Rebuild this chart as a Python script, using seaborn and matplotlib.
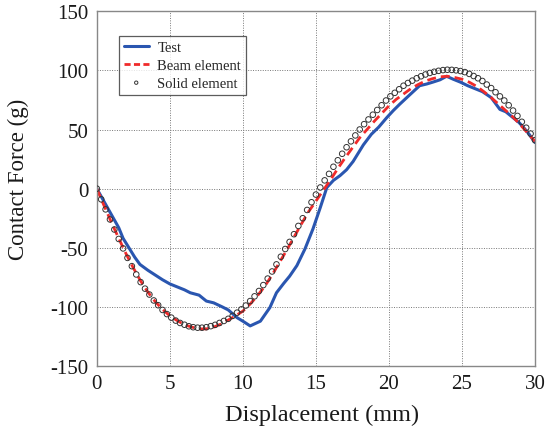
import numpy as np
import pandas as pd
import seaborn as sns
import matplotlib.pyplot as plt

test_x = [0, 0.5, 1, 1.5, 1.8, 2.2, 2.6, 2.95, 3.5, 4, 4.5, 5, 5.5, 6, 6.4, 7, 7.5, 8, 8.6,
          9, 9.6, 10, 10.5, 11.2, 11.85, 12.3, 12.8, 13.2, 13.7, 14.25, 14.8, 15.3, 15.75,
          16.2, 16.65, 17.1, 17.55, 18.25, 18.8, 19.3, 19.85, 20.3, 20.75, 21.4, 22.1, 22.6,
          23, 23.5, 23.95, 24.4, 24.9, 25.4, 25.8, 26.4, 27, 27.3, 27.6, 28, 28.5, 28.9,
          29.2, 29.6, 30]
test_y = [0, -11, -22, -33, -42, -50, -58, -64, -69, -73, -77, -80.5, -83, -85.5, -88, -90,
          -95, -96.5, -100, -102.5, -109, -112, -116, -112, -100.5, -88, -80, -74, -65, -51,
          -34, -16, 1, 7, 11, 16, 23, 37, 46, 52, 60, 66, 71.5, 79, 87, 88.5, 90, 92, 95, 92.5,
          90, 87, 85, 82, 77, 72, 67, 65, 60, 56, 52, 46, 39]

# beam element, every 0.5 mm
beam_y = [0, -14.5, -28.5, -42, -55, -67, -78, -87.5, -95.5, -102, -107.5, -111.5, -115,
          -117, -118.5, -118.5, -117, -114.5, -111, -107.5, -103.5, -97.5, -90.5, -82.5, -73,
          -62.5, -52, -41, -30, -19.5, -10.5, -1.5, 7.5, 17, 26, 34.5, 43, 50, 57, 63.5, 70,
          75.5, 80, 84.5, 88, 91, 93, 94.5, 95, 94, 92.5, 90, 86.5, 82, 77, 71.5, 66, 60.5,
          54, 47, 40]
beam_x = np.linspace(0, 30, len(beam_y))

# solid element, every 0.3 mm
solid_y = [0, -9, -17.5, -26, -34.5, -42.5, -50.5, -58.5, -65.5, -72.5, -79, -84.5, -89.5,
           -94.5, -98.5, -102.5, -106, -109, -111.5, -113.5, -115, -116.3, -117.1, -117.5,
           -117.5, -117.1, -116.2, -115.1, -113.5, -111.8, -110, -107.5, -104.8, -102, -98.8,
           -95, -91, -86.5, -81.5, -76, -70, -64, -57.5, -51, -45, -38.5, -31.5, -25, -18,
           -11.5, -5, 1, 7, 12.5, 18.5, 24, 29.5, 35, 40, 45, 50, 54.5, 58.5, 62.5, 66.5,
           70.5, 74.5, 78, 81, 84, 87, 89.3, 91.3, 93.3, 95, 96.5, 97.8, 98.8, 99.6, 100.2,
           100.5, 100.4, 100, 99.4, 98.5, 97, 95.2, 93.3, 91, 88, 85, 81.5, 78, 74.5, 70.5,
           66, 61.5, 56.5, 51.5, 46.5, 41]
solid_x = np.linspace(0, 30, len(solid_y))

sns.set_theme(style="white")
plt.rcParams['font.family'] = ['Liberation Serif', 'DejaVu Serif']
plt.rcParams['axes.unicode_minus'] = False

fig = plt.figure(figsize=(5.47, 4.35), dpi=100)
ax = fig.add_axes([0.177, 0.156, 0.801, 0.816])

sns.lineplot(x=test_x, y=test_y, ax=ax, color='#2a56b0', lw=2.2, label='Test')
sns.lineplot(x=beam_x, y=beam_y, ax=ax, color='#f02a2a', lw=2.0, label='Beam element')
sns.scatterplot(x=solid_x, y=solid_y, ax=ax, marker='o', s=16, facecolor='none',
                edgecolor='#333333', linewidth=0.7, label='Solid element', zorder=3)
ax.lines[1].set_linestyle((0, (3.2, 1.8)))

ax.set_xlim(0, 30)
ax.set_ylim(-150, 150)
ax.set_xticks(range(0, 31, 5))
ax.set_yticks(range(-150, 151, 50))
ax.grid(True, ls=(0, (1, 1.5)), color='#777777', lw=0.7)
for s in ax.spines.values():
    s.set_color('#888888')
    s.set_linewidth(1.0)
ax.tick_params(length=0, labelsize=15, colors='#1a1a1a', pad=6)
ax.set_xlabel('Displacement (mm)', fontsize=17.5, color='#1a1a1a')
ax.set_ylabel('Contact Force (g)', fontsize=16.5, color='#1a1a1a')
ax.xaxis.set_label_coords(0.515, -0.105)
ax.yaxis.set_label_coords(-0.155, 0.53)

leg = ax.legend(loc='upper left', bbox_to_anchor=(0.05, 0.93), borderaxespad=0,
                fontsize=10.5, frameon=True, fancybox=False, handlelength=1.7,
                handletextpad=0.6, labelspacing=0.3, borderpad=0.35, markerscale=0.6)
leg.get_frame().set_edgecolor('#333333')
leg.get_frame().set_linewidth(0.9)
leg.legend_handles[1].set_linestyle((0, (2.2, 1.2)))

fig.savefig('out.png', dpi=100)
